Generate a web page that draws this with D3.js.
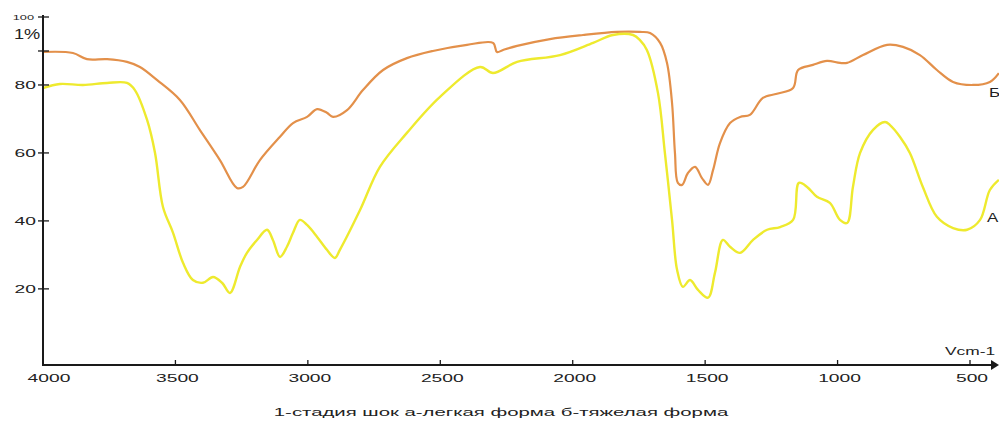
<!DOCTYPE html>
<html>
<head>
<meta charset="utf-8">
<script src="https://cdn.jsdelivr.net/npm/d3@7"></script>
<style>
  html, body { margin: 0; padding: 0; background: #fff; }
  svg { display: block; font-family: "Liberation Sans", Arial, sans-serif; }
</style>
</head>
<body>
<div id="chart"></div>
<script>
/* ИК-спектры: А — лёгкая форма, Б — тяжёлая форма */
const W = 999, H = 425;

// волновое число, см-1
const wnB = [4000, 3887, 3834, 3758, 3683, 3634, 3570, 3483, 3408, 3332, 3268, 3245, 3181, 3106, 3056, 3003,
  2965, 2928, 2905, 2852, 2792, 2716, 2626, 2528, 2399, 2301, 2286, 2263, 2210, 2086, 1961, 1833, 1746, 1708,
  1670, 1644, 1625, 1614, 1603, 1587, 1565, 1538, 1512, 1489, 1470, 1444, 1406, 1368, 1331, 1282, 1229, 1168,
  1149, 1093, 1040, 991, 964, 904, 813, 753, 689, 625, 564, 489, 425, 391];
// пропускание, %
const tB = [89.7, 89.4, 87.6, 87.6, 86.8, 85.3, 81.5, 75.6, 66.8, 57.9, 49.7, 50.0, 57.9, 64.7, 68.8, 70.6,
  72.9, 71.8, 70.6, 72.6, 78.5, 84.4, 87.9, 90.0, 91.8, 92.4, 89.7, 90.3, 91.5, 93.5, 94.7, 95.6, 95.6, 95.3,
  92.4, 86.5, 74.7, 60.0, 51.2, 50.6, 54.1, 55.9, 52.6, 50.6, 55.0, 62.9, 68.8, 70.6, 71.2, 76.2, 77.4, 79.1,
  84.4, 85.9, 87.1, 86.5, 86.5, 88.8, 91.8, 91.2, 88.8, 84.4, 80.9, 80.0, 80.9, 83.5];

const wnA = [4000, 3936, 3849, 3758, 3683, 3653, 3607, 3577, 3547, 3509, 3471, 3434, 3396, 3358, 3324, 3294,
  3256, 3230, 3192, 3154, 3132, 3105, 3079, 3056, 3030, 3003, 2965, 2928, 2898, 2879, 2803, 2728, 2626, 2501,
  2350, 2301, 2210, 2048, 1923, 1848, 1772, 1746, 1720, 1678, 1652, 1625, 1606, 1584, 1557, 1527, 1489, 1463,
  1433, 1406, 1368, 1319, 1266, 1217, 1168, 1146, 1115, 1078, 1029, 991, 964, 942, 915, 866, 821, 802, 764,
  727, 678, 625, 564, 511, 462, 425, 391];
const tA = [79.1, 80.3, 80.0, 80.6, 80.6, 78.5, 69.7, 60.0, 44.1, 36.5, 27.6, 22.6, 21.8, 23.5, 21.8, 18.8,
  26.5, 30.6, 34.4, 37.4, 34.4, 29.4, 32.4, 36.5, 40.3, 38.8, 35.3, 31.5, 29.1, 31.5, 43.2, 55.9, 65.9, 76.5,
  85.3, 83.5, 86.8, 88.8, 92.4, 94.7, 94.7, 93.2, 90.3, 77.6, 60.0, 40.3, 25.6, 20.6, 22.6, 19.7, 17.4, 24.7,
  34.4, 32.4, 30.6, 34.4, 37.4, 38.2, 40.3, 51.2, 50.0, 47.1, 45.3, 40.3, 39.4, 50.0, 60.0, 66.8, 69.1, 68.2, 64.7,
  60.0, 50.0, 41.2, 37.9, 37.4, 40.3, 49.1, 52.1];

const xTicks = [4000, 3500, 3000, 2500, 2000, 1500, 1000, 500];
const yTicks = [80, 60, 40, 20];
const yTicksBlank = [100, 90];
const caption = '1-стадия шок а-легкая форма б-тяжелая форма';

const x = d3.scaleLinear().domain([4000, 500]).range([43, 970]);
const y = d3.scaleLinear().domain([-2.4, 100]).range([365, 17]);

const svg = d3.select('#chart').append('svg').attr('width', W).attr('height', H);

// в оригинале весь текст растянут по горизонтали
function label(tx, ty, str, size, anchor, sx) {
  return svg.append('text')
    .attr('transform', `translate(${tx},${ty}) scale(${sx},1)`)
    .attr('text-anchor', anchor || 'start')
    .attr('font-size', size).attr('fill', '#222')
    .text(str);
}

const line = d3.line()
  .x(d => x(d[0])).y(d => y(d[1]))
  .curve(d3.curveCatmullRom.alpha(0.5));

svg.append('path')
  .datum(d3.zip(wnB, tB))
  .attr('d', line).attr('fill', 'none')
  .attr('stroke', '#E3904A').attr('stroke-width', 2.2).attr('stroke-linejoin', 'round');

svg.append('path')
  .datum(d3.zip(wnA, tA))
  .attr('d', line).attr('fill', 'none')
  .attr('stroke', '#EEEA2E').attr('stroke-width', 2.4).attr('stroke-linejoin', 'round');

// оси
const axisColor = '#1a1a1a';
const y0 = y(-2.4);
svg.append('line').attr('x1', 43).attr('x2', 43).attr('y1', 15).attr('y2', y0 + 1)
  .attr('stroke', axisColor).attr('stroke-width', 2);
svg.append('line').attr('x1', 42).attr('x2', 992).attr('y1', y0).attr('y2', y0)
  .attr('stroke', axisColor).attr('stroke-width', 2);
svg.append('path')
  .attr('d', `M991,${y0 - 5}L999,${y0}L991,${y0 + 5}Z`)
  .attr('fill', axisColor);

// деления Y
svg.selectAll('.ytick').data(yTicks.concat(yTicksBlank)).join('line')
  .attr('x1', 38).attr('x2', 49)
  .attr('y1', d => y(d)).attr('y2', d => y(d))
  .attr('stroke', axisColor).attr('stroke-width', 1.3);

yTicks.forEach(d => label(36, y(d) + 4, d, 11, 'end', 1.75));
label(34, y(100) + 3, '100', 8, 'end', 1.6);
label(14, 39, '1%', 14, 'start', 1.3);

// деления X
svg.selectAll('.xtick').data(xTicks.slice(1)).join('line')
  .attr('x1', d => x(d)).attr('x2', d => x(d))
  .attr('y1', y0 - 5).attr('y2', y0)
  .attr('stroke', axisColor).attr('stroke-width', 1.3);

xTicks.forEach(d => label(d === 4000 ? x(d) + 6 : x(d) + 2, 382, d, 11, 'middle', 1.75));

label(945, 355, 'Vcm-1', 11, 'start', 1.58);

// подписи кривых
label(989, 97, 'Б', 13, 'start', 1.3);
label(987, 222, 'А', 13, 'start', 1.3);

label(501, 416, caption, 11, 'middle', 1.85);
</script>
</body>
</html>
